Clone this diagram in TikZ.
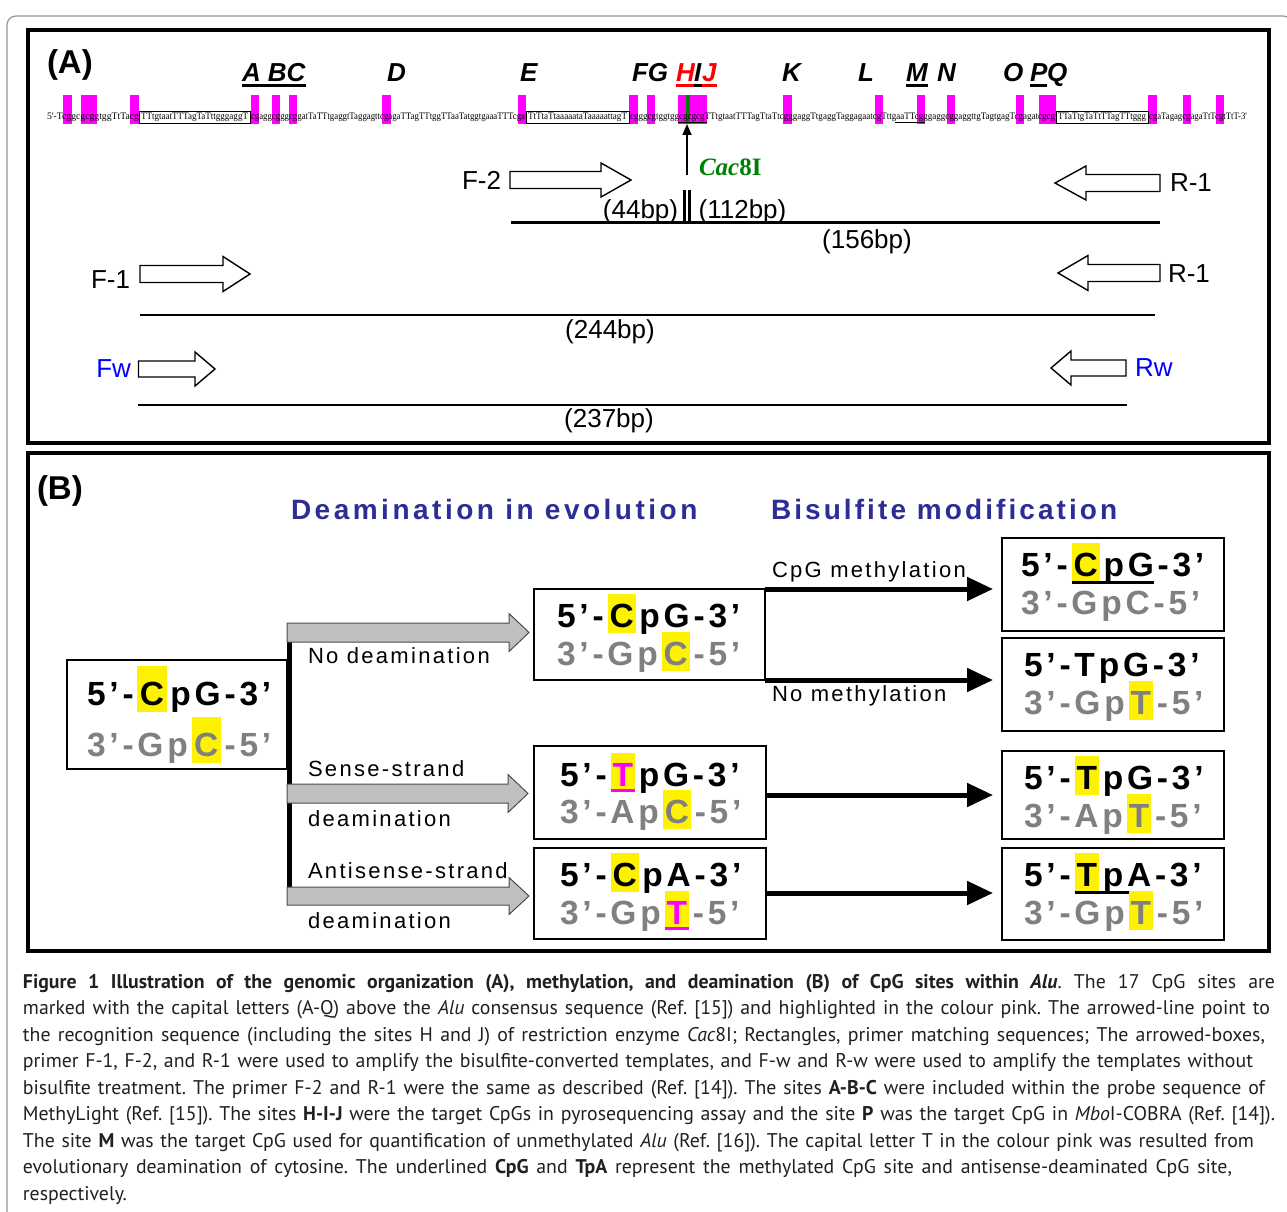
\documentclass[tikz,border=0pt]{standalone}
\usepackage{fontspec}
\usepackage{graphicx}
\usetikzlibrary{arrows.meta,calc}
\setmainfont{Liberation Sans}
\newfontfamily\capfont{PT Sans}
\newfontfamily\seqfont{Liberation Serif}
\newfontfamily\lsfont[LetterSpace=11]{Liberation Sans}
\newfontfamily\lsfontb[LetterSpace=12.5]{Liberation Sans}
\newfontfamily\lbfont[LetterSpace=10.5]{Liberation Sans}
\definecolor{pinkc}{RGB}{255,0,255}
\definecolor{ttlblue}{RGB}{45,45,150}
\definecolor{grayt}{RGB}{128,128,128}
\definecolor{arrowgray}{RGB}{192,192,192}
\definecolor{cacgreen}{RGB}{0,128,0}
\definecolor{fwblue}{RGB}{0,0,255}
\definecolor{hlred}{RGB}{255,0,0}
\definecolor{framegray}{RGB}{150,150,150}
\definecolor{captext}{RGB}{35,31,32}
\newlength\ks \setlength\ks{3.8pt}
\newcommand\K{\kern\ks}
\newsavebox\ulbox
\newcommand\hlb[2][black]{{\setlength{\fboxsep}{0pt}\colorbox{yellow}{\rule[-6pt]{0pt}{39pt}\kern2pt\textcolor{#1}{#2}\kern2pt}}}
\newcommand\hlL[2][black]{{\setlength{\fboxsep}{0pt}\colorbox{yellow}{\rule[-7pt]{0pt}{46pt}\kern2.5pt\textcolor{#1}{#2}\kern2.5pt}}}
\newcommand\hlm[1]{\sbox\ulbox{\hlb[pinkc]{#1}}\usebox\ulbox\llap{\textcolor{pinkc}{\rule[-6pt]{\wd\ulbox}{3pt}}}}
\newcommand\ulg[1]{\sbox\ulbox{#1}\usebox\ulbox\llap{\rule[-8pt]{\wd\ulbox}{3pt}}}
\newcommand\barrow[7]{\draw[#1] (#2,{#5-#6}) -- (#4,{#5-#6}) -- (#4,{#5-#7}) -- (#3,#5) -- (#4,{#5+#7}) -- (#4,{#5+#6}) -- (#2,{#5+#6}) -- cycle;}
\tikzset{
  dbox/.style={draw, line width=1.6pt},
  panel/.style={draw, line width=4pt},
  blk/.style={line width=5pt, -{Triangle[length=26pt,width=23pt]}, shorten >=9pt},
  garrow/.style={fill=arrowgray, draw=gray!60!black, line width=1pt},
  oarrow/.style={fill=white, draw=black, line width=1.4pt},
  bpline/.style={line width=2.5pt},
  lbl/.style={font=\fontsize{26}{28}\selectfont},
  sitelet/.style={anchor=base west, font=\fontsize{26}{28}\selectfont\bfseries\itshape},
  seqtxt/.style={anchor=base west},
  bt/.style={anchor=base west, font=\fontsize{33.5}{36}\selectfont\bfseries},
  btg/.style={bt, text=grayt},
  blab/.style={anchor=base west, font=\lbfont\fontsize{22}{24}\selectfont},
  capline/.style={anchor=base west, text=captext, font=\capfont\fontsize{19.8}{22}\selectfont\frenchspacing},
}
\begin{document}
\begin{tikzpicture}[x=1pt,y=-1pt, every node/.style={inner sep=0pt, outer sep=0pt}]
\useasboundingbox (0,0) rectangle (1287,1212);
\fill[white] (0,0) rectangle (1287,1212);
\draw[framegray, line width=1.2pt, rounded corners=9pt] (7,16) rectangle (1292,1240);
% panels
\node[panel, minimum width=1241pt, minimum height=413pt] (panelA) at (648.5,236.5) {};
\node[panel, minimum width=1241pt, minimum height=498pt] (panelB) at (648.5,702) {};
\node[anchor=base west, font=\fontsize{33}{35}\selectfont\bfseries] (labA) at (47,74) {(A)};
\node[anchor=base west, font=\fontsize{33}{35}\selectfont\bfseries] (labB) at (37,499) {(B)};
% CpG site letters
\node[sitelet] (sABC) at (242,82) {A BC};
\node[sitelet] (sD) at (387,82) {D};
\node[sitelet] (sE) at (520,82) {E};
\node[sitelet] (sFG) at (632,82) {FG};
\node[sitelet, text=hlred] (sH) at (676,82) {H};
\node[sitelet] (sI) at (694,82) {I};
\node[sitelet, text=hlred] (sJ) at (702,82) {J};
\node[sitelet] (sK) at (782,82) {K};
\node[sitelet] (sL) at (858,82) {L};
\node[sitelet] (sM) at (906,82) {M};
\node[sitelet] (sN) at (937,82) {N};
\node[sitelet] (sO) at (1003,82) {O};
\node[sitelet] (sP) at (1030,82) {P};
\node[sitelet] (sQ) at (1047,82) {Q};
\fill (242,84) rectangle (306,87.5);
\fill[hlred] (676,84) rectangle (694,87.5);
\fill (694,84) rectangle (702,87.5);
\fill[hlred] (702,84) rectangle (717,87.5);
\fill (906,84) rectangle (928,87.5);
\fill (1030,84) rectangle (1047,87.5);
% pink CpG bars
\foreach \a/\b in {63/72,81/97,130/139,251/259,272/280,289/297,382/391,518/526,629/638,647/655,678/707,783/792,875/883,917/925,947/955,1016/1024,1039/1056,1148/1157,1183/1191,1216/1224}
  \fill[pinkc] (\a,95) rectangle (\b,124);
\fill[cacgreen] (686,95) rectangle (689.5,124);
% sequence
\node[seqtxt] (s1) at (47,120) {\resizebox{92pt}{6.5pt}{\seqfont 5'-TcggcgcggtggTtTacg}};
\node[seqtxt] (b1) at (141,120) {\resizebox{107pt}{6.5pt}{\seqfont TTtgtaatTTTagTaTttgggaggT}};
\node[seqtxt] (s2) at (251,120) {\resizebox{274pt}{6.5pt}{\seqfont cgaggcgggcggatTaTTtgaggtTaggagttcgagaTTagTTtggTTaaTatggtgaaaTTTcga}};
\node[seqtxt] (b2) at (528,120) {\resizebox{99pt}{6.5pt}{\seqfont TtTtaTtaaaaataTaaaaattagT}};
\node[seqtxt] (s3) at (630,120) {\resizebox{425pt}{6.5pt}{\seqfont cgggcgtggtggcgcgcgTTtgtaatTTTagTtaTtcgggaggTtgaggTaggagaatcgTttgaaTTcgggaggcggaggttgTagtgagTcgagatcgcg}};
\node[seqtxt] (b3) at (1058,120) {\resizebox{88pt}{6.5pt}{\seqfont TTaTtgTaTtTTagTTtggg}};
\node[seqtxt] (s4) at (1149,120) {\resizebox{98pt}{6.5pt}{\seqfont cgaTagagcgagaTtTcgtTtT-3'}};
\draw[line width=0.9pt] (139,111) rectangle (250,123.5);
\draw[line width=0.9pt] (526,111) rectangle (629,123.5);
\draw[line width=0.9pt] (1056,111) rectangle (1148,123.5);
\draw[line width=0.6pt] (678,122.5) -- (707,122.5);
\draw[line width=0.6pt] (895,122.5) -- (925,122.5);
% Cac8I
\node[anchor=base west, font=\seqfont\fontsize{25}{27}\selectfont\bfseries, text=cacgreen] (cac) at (699,175) {\textit{Cac}8I};
\coordinate (cacfoot) at (687,175);
\coordinate (cacsite) at (687,124);
\draw[line width=1.6pt, -{Triangle[length=11pt,width=9pt]}] (cacfoot) -- (cacsite);
% primers
\barrow{oarrow}{510}{631}{601}{180}{8.5}{17}
\node[lbl, anchor=east] (F2) at (501,180) {F-2};
\barrow{oarrow}{1160}{1055}{1086}{183}{8.5}{17}
\node[lbl, anchor=west] (R1a) at (1170,183) {R-1};
\draw[line width=3pt] (684.5,190) -- (684.5,222);
\draw[line width=3pt] (689.5,190) -- (689.5,222);
\draw[bpline] (511,222.5) -- (1160,222.5);
\node[lbl] (bp44) at (640.5,212) {(44bp)};
\node[lbl] (bp112) at (742.5,212) {(112bp)};
\node[lbl] (bp156) at (867,242) {(156bp)};
\barrow{oarrow}{140}{250}{223}{274}{8.5}{17.5}
\node[lbl, anchor=east] (F1) at (130,280) {F-1};
\barrow{oarrow}{1160}{1058}{1088}{273}{8.5}{17.5}
\node[lbl, anchor=west] (R1b) at (1168,274) {R-1};
\draw[bpline] (140,315) -- (1155,315);
\node[lbl] (bp244) at (610,332) {(244bp)};
\barrow{oarrow}{138.5}{215}{195}{369}{8}{17}
\node[lbl, anchor=east, text=fwblue] (Fw) at (131,369) {Fw};
\barrow{oarrow}{1126}{1051}{1071}{368}{8}{17}
\node[lbl, anchor=west, text=fwblue] (Rw) at (1135,368) {Rw};
\draw[bpline] (138,405) -- (1127,405);
\node[lbl] (bp237) at (609,421) {(237bp)};
% panel B titles
\node[anchor=base west, text=ttlblue, font=\lsfontb\fontsize{28}{30}\selectfont\bfseries] (t1) at (291,519) {Deamination in evolution};
\node[anchor=base west, text=ttlblue, font=\lsfont\fontsize{28}{30}\selectfont\bfseries] (t2) at (771,519) {Bisulfite modification};
% boxes
\node[dbox, minimum width=220pt, minimum height=109pt] (lb) at (177,714.5) {};
\node[dbox, minimum width=231pt, minimum height=91pt] (m1) at (649.5,634.5) {};
\node[dbox, minimum width=232pt, minimum height=93pt] (m2) at (650,792.5) {};
\node[dbox, minimum width=232pt, minimum height=91pt] (m3) at (650,893.5) {};
\node[dbox, minimum width=222pt, minimum height=93pt] (r1) at (1113,584.5) {};
\node[dbox, minimum width=222pt, minimum height=93pt] (r2) at (1113,684.5) {};
\node[dbox, minimum width=222pt, minimum height=88pt] (r3) at (1113,795) {};
\node[dbox, minimum width=222pt, minimum height=92pt] (r4) at (1113,894) {};
% box texts
\node[bt] (lb1) at (87,705) {5\K’\K-\K\hlL{C}\K p\K G\K-\K3\K’};
\node[btg] (lb2) at (87,756) {3\K’\K-\K G\K p\K\hlL[grayt]{C}\K-\K5\K’};
\node[bt] (m1a) at (557,627) {5\K’\K-\K\hlb{C}\K p\K G\K-\K3\K’};
\node[btg] (m1b) at (557,665) {3\K’\K-\K G\K p\K\hlb[grayt]{C}\K-\K5\K’};
\node[bt] (m2a) at (560,786) {5\K’\K-\K\hlm{T}\K p\K G\K-\K3\K’};
\node[btg] (m2b) at (560,823) {3\K’\K-\K A\K p\K\hlb[grayt]{C}\K-\K5\K’};
\node[bt] (m3a) at (560,886) {5\K’\K-\K\hlb{C}\K p\K A\K-\K3\K’};
\node[btg] (m3b) at (560,924) {3\K’\K-\K G\K p\K\hlm{T}\K-\K5\K’};
\node[bt] (r1a) at (1021,576) {5\K’\K-\K\ulg{\hlb{C}\K p\K G}\K-\K3\K’};
\node[btg] (r1b) at (1021,614) {3\K’\K-\K G\K p\K C\K-\K5\K’};
\node[bt] (r2a) at (1024,676) {5\K’\K-\K T\K p\K G\K-\K3\K’};
\node[btg] (r2b) at (1024,714) {3\K’\K-\K G\K p\K\hlb[grayt]{T}\K-\K5\K’};
\node[bt] (r3a) at (1024,789) {5\K’\K-\K\hlb{T}\K p\K G\K-\K3\K’};
\node[btg] (r3b) at (1024,827) {3\K’\K-\K A\K p\K\hlb[grayt]{T}\K-\K5\K’};
\node[bt] (r4a) at (1024,886) {5\K’\K-\K\ulg{\hlb{T}\K p\K A}\K-\K3\K’};
\node[btg] (r4b) at (1024,924) {3\K’\K-\K G\K p\K\hlb[grayt]{T}\K-\K5\K’};
% spine and deamination arrows
\coordinate (spinetop) at (lb.east |- 0,623);
\coordinate (spinebot) at (lb.east |- 0,905);
\draw[line width=5pt] ($(spinetop)+(2,0)$) -- ($(spinebot)+(2,0)$);
\barrow{garrow}{287}{529}{509}{632.5}{9.5}{19}
\barrow{garrow}{287}{528}{508}{793.5}{9.5}{19}
\barrow{garrow}{287}{529}{509}{896}{9}{18.5}
\node[blab] (nd) at (308,663) {No deamination};
\node[blab] (ss1) at (308,776) {Sense-strand};
\node[blab] (ss2) at (308,826) {deamination};
\node[blab] (as1) at (308,878) {Antisense-strand};
\node[blab] (as2) at (308,928) {deamination};
% bisulfite arrows
\draw[blk] (m1.north east) -- (m1.north east -| r1.west);
\draw[blk] (m1.south east) -- (m1.south east -| r2.west);
\coordinate (m2out) at (m2.east |- 0,795);
\draw[blk] (m2out) -- (m2out -| r3.west);
\coordinate (m3out) at (m3.east |- 0,893);
\draw[blk] (m3out) -- (m3out -| r4.west);
\node[blab] (cm) at (772,577) {CpG methylation};
\node[blab] (nm) at (772,701) {No methylation};
% caption
\node[capline] (c1) at (23,988) {\makebox[1252pt][s]{{\bfseries Figure 1 Illustration of the genomic organization (A), methylation, and deamination (B) of CpG sites within \textit{Alu}}. The 17 CpG sites are}};
\node[capline] (c2) at (23,1014.5) {\makebox[1247pt][s]{marked with the capital letters (A-Q) above the \textit{Alu} consensus sequence (Ref. [15]) and highlighted in the colour pink. The arrowed-line point to}};
\node[capline] (c3) at (23,1041) {\makebox[1242pt][s]{the recognition sequence (including the sites H and J) of restriction enzyme \textit{Cac}8I; Rectangles, primer matching sequences; The arrowed-boxes,}};
\node[capline] (c4) at (23,1067.5) {\makebox[1230pt][s]{primer F-1, F-2, and R-1 were used to amplify the bisulfite-converted templates, and F-w and R-w were used to amplify the templates without}};
\node[capline] (c5) at (23,1094) {\makebox[1242pt][s]{bisulfite treatment. The primer F-2 and R-1 were the same as described (Ref. [14]). The sites \textbf{A-B-C} were included within the probe sequence of}};
\node[capline] (c6) at (23,1120.5) {\makebox[1252pt][s]{MethyLight (Ref. [15]). The sites \textbf{H-I-J} were the target CpGs in pyrosequencing assay and the site \textbf{P} was the target CpG in \textit{Mbo}I-COBRA (Ref. [14]).}};
\node[capline] (c7) at (23,1147) {\makebox[1231pt][s]{The site \textbf{M} was the target CpG used for quantification of unmethylated \textit{Alu} (Ref. [16]). The capital letter T in the colour pink was resulted from}};
\node[capline] (c8) at (23,1173.5) {\makebox[1209pt][s]{evolutionary deamination of cytosine. The underlined \textbf{CpG} and \textbf{TpA} represent the methylated CpG site and antisense-deaminated CpG site,}};
\node[capline] (c9) at (23,1200) {respectively.};
\end{tikzpicture}
\end{document}
